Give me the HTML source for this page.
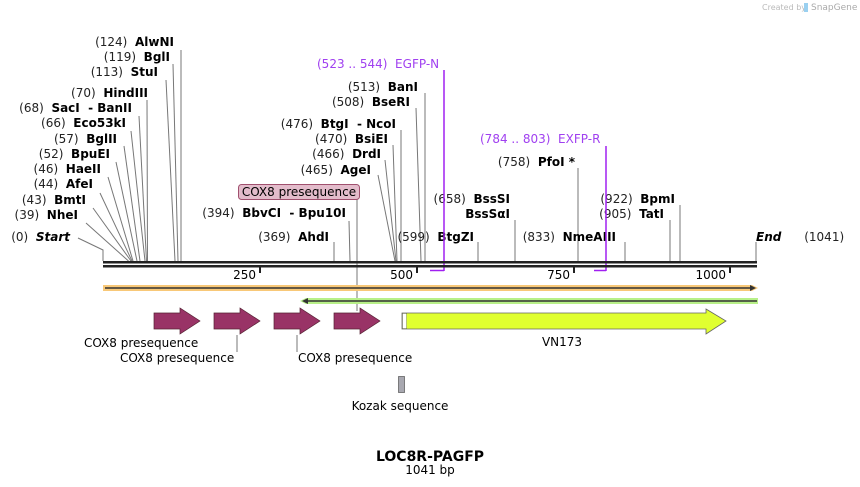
<!DOCTYPE html>
<html><head><meta charset="utf-8">
<style>
html,body{margin:0;padding:0;background:#fff;}
svg{display:block;}
text{font-family:"DejaVu Sans","Liberation Sans",sans-serif;font-size:12px;fill:#000;white-space:pre;}
.b{font-weight:bold;}
.n{fill:#222;}
.p{fill:#a040f0;}
</style></head><body>
<svg width="860" height="487" viewBox="0 0 860 487" xmlns="http://www.w3.org/2000/svg" xml:space="preserve">
<text x="762" y="10" style="font-size:8px;fill:#bbb">Created by</text>
<rect x="804" y="3" width="4" height="9" fill="#9ad0f0"/>
<text x="811" y="10" style="font-size:9px;fill:#aaa">SnapGene</text>

<g stroke="#777" stroke-width="1" fill="none">
<line x1="181" y1="50" x2="181" y2="261"/>
<line x1="173" y1="64" x2="178" y2="261"/>
<line x1="166" y1="80" x2="175" y2="261"/>
<line x1="147" y1="100" x2="147.5" y2="261"/>
<line x1="139" y1="116" x2="146.5" y2="261"/>
<line x1="131" y1="131" x2="145" y2="261"/>
<line x1="124" y1="146" x2="140" y2="261"/>
<line x1="116" y1="162" x2="137" y2="261"/>
<line x1="108" y1="177" x2="133" y2="261"/>
<line x1="100" y1="193" x2="132" y2="261"/>
<line x1="93" y1="208" x2="131" y2="261"/>
<line x1="86" y1="223" x2="128.5" y2="261"/>
<polyline points="78,238 103,250 103,261"/>
<line x1="425" y1="93" x2="425" y2="261"/>
<line x1="416" y1="108" x2="421" y2="261"/>
<line x1="401" y1="130" x2="401" y2="261"/>
<line x1="393" y1="145" x2="397" y2="261"/>
<line x1="385" y1="160" x2="396" y2="261"/>
<line x1="378" y1="175" x2="395" y2="261"/>
<line x1="349" y1="221" x2="350" y2="261"/>
<line x1="334" y1="242" x2="334" y2="261"/>
<line x1="478" y1="242" x2="478" y2="261"/>
<line x1="515" y1="220" x2="515" y2="261"/>
<line x1="578" y1="168" x2="578" y2="261"/>
<line x1="625" y1="242" x2="625" y2="261"/>
<line x1="680" y1="205" x2="680" y2="261"/>
<line x1="670" y1="220" x2="670" y2="261"/>
<line x1="756" y1="242" x2="756" y2="261"/>
<line x1="357" y1="199" x2="357" y2="311"/>
<line x1="237" y1="335" x2="237" y2="352"/>
<line x1="297" y1="335" x2="297" y2="352"/>
</g>

<text x="174" y="46" text-anchor="end"><tspan class="n">(124)  </tspan><tspan class="b">AlwNI</tspan></text>
<text x="170" y="61" text-anchor="end"><tspan class="n">(119)  </tspan><tspan class="b">BglI</tspan></text>
<text x="158" y="76" text-anchor="end"><tspan class="n">(113)  </tspan><tspan class="b">StuI</tspan></text>
<text x="148" y="97" text-anchor="end"><tspan class="n">(70)  </tspan><tspan class="b">HindIII</tspan></text>
<text x="132" y="112" text-anchor="end"><tspan class="n">(68)  </tspan><tspan class="b">SacI  - BanII</tspan></text>
<text x="126" y="127" text-anchor="end"><tspan class="n">(66)  </tspan><tspan class="b">Eco53kI</tspan></text>
<text x="117" y="143" text-anchor="end"><tspan class="n">(57)  </tspan><tspan class="b">BglII</tspan></text>
<text x="110" y="158" text-anchor="end"><tspan class="n">(52)  </tspan><tspan class="b">BpuEI</tspan></text>
<text x="101" y="173" text-anchor="end"><tspan class="n">(46)  </tspan><tspan class="b">HaeII</tspan></text>
<text x="93" y="188" text-anchor="end"><tspan class="n">(44)  </tspan><tspan class="b">AfeI</tspan></text>
<text x="86" y="204" text-anchor="end"><tspan class="n">(43)  </tspan><tspan class="b">BmtI</tspan></text>
<text x="78" y="219" text-anchor="end"><tspan class="n">(39)  </tspan><tspan class="b">NheI</tspan></text>
<text x="70" y="241" text-anchor="end"><tspan class="n">(0)  </tspan><tspan class="b" font-style="italic">Start</tspan></text>

<text x="418" y="91" text-anchor="end"><tspan class="n">(513)  </tspan><tspan class="b">BanI</tspan></text>
<text x="410" y="106" text-anchor="end"><tspan class="n">(508)  </tspan><tspan class="b">BseRI</tspan></text>
<text x="396" y="128" text-anchor="end"><tspan class="n">(476)  </tspan><tspan class="b">BtgI  - NcoI</tspan></text>
<text x="388" y="143" text-anchor="end"><tspan class="n">(470)  </tspan><tspan class="b">BsiEI</tspan></text>
<text x="381" y="158" text-anchor="end"><tspan class="n">(466)  </tspan><tspan class="b">DrdI</tspan></text>
<text x="371" y="174" text-anchor="end"><tspan class="n">(465)  </tspan><tspan class="b">AgeI</tspan></text>
<text x="346" y="217" text-anchor="end"><tspan class="n">(394)  </tspan><tspan class="b">BbvCI  - Bpu10I</tspan></text>
<text x="329" y="241" text-anchor="end"><tspan class="n">(369)  </tspan><tspan class="b">AhdI</tspan></text>
<text x="474" y="241" text-anchor="end"><tspan class="n">(599)  </tspan><tspan class="b">BtgZI</tspan></text>
<text x="510" y="203" text-anchor="end"><tspan class="n">(658)  </tspan><tspan class="b">BssSI</tspan></text>
<text x="510" y="218" text-anchor="end" class="b">BssSαI</text>
<text x="575" y="166" text-anchor="end"><tspan class="n">(758)  </tspan><tspan class="b">PfoI *</tspan></text>
<text x="616" y="241" text-anchor="end"><tspan class="n">(833)  </tspan><tspan class="b">NmeAIII</tspan></text>
<text x="675" y="203" text-anchor="end"><tspan class="n">(922)  </tspan><tspan class="b">BpmI</tspan></text>
<text x="664" y="218" text-anchor="end"><tspan class="n">(905)  </tspan><tspan class="b">TatI</tspan></text>
<text x="756" y="241"><tspan class="b" font-style="italic">End</tspan><tspan class="n">      (1041)</tspan></text>

<rect x="238.5" y="184.5" width="121" height="15" rx="3" fill="#e3bccb" stroke="#a0506e"/>
<text x="299" y="196" text-anchor="middle" fill="#111">COX8 presequence</text>

<g stroke="#a020f0" stroke-width="1.5" fill="none">
<line x1="444" y1="70" x2="444" y2="271"/>
<line x1="430" y1="270.5" x2="444" y2="270.5"/>
<line x1="606" y1="146" x2="606" y2="271"/>
<line x1="594" y1="270.5" x2="606" y2="270.5"/>
</g>
<text x="317" y="68" class="p">(523 .. 544)  EGFP-N</text>
<text x="480" y="143" class="p">(784 .. 803)  EXFP-R</text>

<rect x="103" y="261" width="654" height="2.5" fill="#222"/>
<rect x="103" y="265" width="654" height="2.5" fill="#222"/>
<g fill="#222">
<rect x="259" y="266" width="2" height="7"/>
<rect x="416" y="266" width="2" height="7"/>
<rect x="573" y="266" width="2" height="7"/>
<rect x="729" y="266" width="2" height="7"/>
</g>
<text x="256" y="279" text-anchor="end">250</text>
<text x="413" y="279" text-anchor="end">500</text>
<text x="570" y="279" text-anchor="end">750</text>
<text x="726" y="279" text-anchor="end">1000</text>

<polygon points="103,285 752,285 758,288 752,291 103,291" fill="#f8c878"/>
<line x1="105" y1="288" x2="752" y2="288" stroke="#333" stroke-width="1.5"/>
<polygon points="756,288 750,285 750,291" fill="#333"/>
<polygon points="306,298 758,298 758,304 306,304 300,301" fill="#b8f088"/>
<line x1="306" y1="301" x2="757" y2="301" stroke="#333" stroke-width="1.5"/>
<polygon points="302,301 308,298 308,304" fill="#333"/>

<g fill="#993366" stroke="#552233" stroke-width="0.7">
<polygon points="154,313 180,313 180,308 200,321 180,334 180,329 154,329"/>
<polygon points="214,313 240,313 240,308 260,321 240,334 240,329 214,329"/>
<polygon points="274,313 300,313 300,308 320,321 300,334 300,329 274,329"/>
<polygon points="334,313 360,313 360,308 380,321 360,334 360,329 334,329"/>
</g>
<polygon points="402,313 706,313 706,309 726,321 706,334 706,329 402,329" fill="#e0ff30" stroke="#666" stroke-width="0.8"/>
<rect x="402.5" y="313.5" width="4" height="15" fill="#fff" stroke="#333" stroke-width="0.6" stroke-dasharray="1,1"/>

<text x="84" y="347" fill="#111">COX8 presequence</text>
<text x="120" y="362" fill="#111">COX8 presequence</text>
<text x="298" y="362" fill="#111">COX8 presequence</text>
<text x="562" y="346" text-anchor="middle" fill="#111">VN173</text>
<rect x="398.5" y="376.5" width="6" height="16" fill="#a8a8b0" stroke="#555" stroke-width="0.7"/>
<text x="400" y="410" text-anchor="middle" fill="#111">Kozak sequence</text>

<text x="430" y="461" text-anchor="middle" class="b" style="font-size:14px">LOC8R-PAGFP</text>
<text x="430" y="474" text-anchor="middle" style="font-size:12px">1041 bp</text>
</svg>
</body></html>
